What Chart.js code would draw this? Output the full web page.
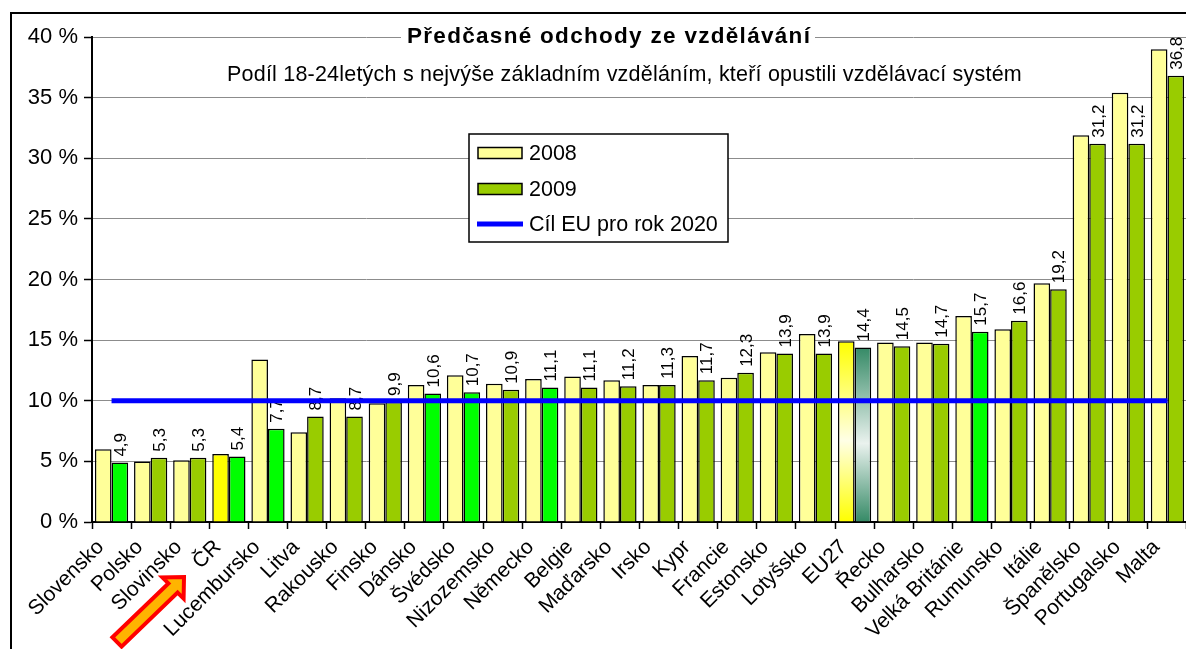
<!DOCTYPE html>
<html>
<head>
<meta charset="utf-8">
<script src="https://cdn.jsdelivr.net/npm/chart.js@4/dist/chart.umd.min.js"></script>
<style>
  html, body { margin: 0; padding: 0; background: #fff; overflow: hidden; }
  #wrap { position: relative; width: 1186px; height: 649px; overflow: hidden; }
  canvas { display: block; }
</style>
</head>
<body>
<div id="wrap"><canvas id="chart" width="1200" height="649"></canvas></div>
<script>
const FONT = '"Liberation Sans", Arial, sans-serif';

const countries = ['Slovensko', 'Polsko', 'Slovinsko', 'ČR', 'Lucembursko', 'Litva', 'Rakousko', 'Finsko',
  'Dánsko', 'Švédsko', 'Nizozemsko', 'Německo', 'Belgie', 'Maďarsko', 'Irsko', 'Kypr', 'Francie',
  'Estonsko', 'Lotyšsko', 'EU27', 'Řecko', 'Bulharsko', 'Velká Británie', 'Rumunsko', 'Itálie',
  'Španělsko', 'Portugalsko', 'Malta'];

const values2008 = [6.0, 5.0, 5.1, 5.6, 13.4, 7.4, 10.2, 9.8, 11.3, 12.1, 11.4, 11.8, 12.0, 11.7, 11.3,
  13.7, 11.9, 14.0, 15.5, 14.9, 14.8, 14.8, 17.0, 15.9, 19.7, 31.9, 35.4, 39.0];

const values2009 = [4.9, 5.3, 5.3, 5.4, 7.7, 8.7, 8.7, 9.9, 10.6, 10.7, 10.9, 11.1, 11.1, 11.2, 11.3,
  11.7, 12.3, 13.9, 13.9, 14.4, 14.5, 14.7, 15.7, 16.6, 19.2, 31.2, 31.2, 36.8];

const target2020 = [10, 10, 10, 10, 10, 10, 10, 10, 10, 10, 10, 10, 10, 10, 10, 10, 10, 10, 10, 10,
  10, 10, 10, 10, 10, 10, 10, 10];

const yTicks = [0, 5, 10, 15, 20, 25, 30, 35, 40];

// barvy sloupcu (zvyraznene staty)
const Y = '#FFFF99', G = '#99CC00', BG = '#00FF00';
const colors2008 = [Y, Y, Y, '#FFFF00', Y, Y, Y, Y, Y, Y, Y, Y, Y, Y, Y, Y, Y, Y, Y, 'grad', Y, Y, Y, Y, Y, Y, Y, Y];
const colors2009 = [BG, G, G, BG, BG, G, G, G, BG, BG, G, BG, G, G, G, G, G, G, G, 'grad', G, G, BG, G, G, G, G, G];

function barFill(colors, edge, light) {
  return (c) => {
    const col = colors[c.dataIndex];
    if (col !== 'grad') return col;
    const chart = c.chart;
    if (!chart.chartArea) return edge;
    const top = chart.scales.y.getPixelForValue(c.raw);
    const bottom = chart.scales.y.getPixelForValue(0);
    const g = chart.ctx.createLinearGradient(0, top, 0, bottom);
    g.addColorStop(0, edge);
    g.addColorStop(0.55, light);
    g.addColorStop(1, edge);
    return g;
  };
}

const frame = {
  id: 'frame',
  beforeDraw(chart) {
    const ctx = chart.ctx;
    ctx.save();
    ctx.strokeStyle = '#000';
    ctx.lineWidth = 2;
    ctx.beginPath();
    ctx.moveTo(11, chart.height + 5);
    ctx.lineTo(11, 13);
    ctx.lineTo(chart.width + 5, 13);
    ctx.stroke();
    ctx.restore();
  }
};

// popisky hodnot 2009 - kreslit pred carou cile EU
const valueLabels = {
  id: 'valueLabels',
  afterDatasetDraw(chart, args) {
    if (args.index !== 1) return;
    const ctx = chart.ctx;
    ctx.save();
    ctx.font = '17px ' + FONT;
    ctx.fillStyle = '#000';
    ctx.textAlign = 'left';
    ctx.textBaseline = 'alphabetic';
    args.meta.data.forEach((bar, i) => {
      ctx.save();
      ctx.translate(bar.x + 6, bar.y - 6);
      ctx.rotate(-Math.PI / 2);
      ctx.fillText(values2009[i].toFixed(1).replace('.', ','), 0, 0);
      ctx.restore();
    });
    ctx.restore();
  }
};

function fitText(ctx, text, x, y, width) {
  ctx.letterSpacing = '0px';
  const w = ctx.measureText(text).width;
  const sp = Math.max(0, (width - w) / (text.length - 1));
  ctx.letterSpacing = sp.toFixed(2) + 'px';
  ctx.textAlign = 'left';
  ctx.fillText(text, x, y);
  ctx.letterSpacing = '0px';
}

const titles = {
  id: 'titles',
  afterDraw(chart) {
    const ctx = chart.ctx;
    ctx.save();
    ctx.fillStyle = '#fff';
    ctx.fillRect(401, 28, 414, 20);
    ctx.fillStyle = '#000';
    ctx.textBaseline = 'alphabetic';
    ctx.font = 'bold 22.5px ' + FONT;
    fitText(ctx, 'Předčasné odchody ze vzdělávání', 407, 43, 403);
    ctx.font = '21.5px ' + FONT;
    fitText(ctx, 'Podíl 18-24letých s nejvýše základním vzděláním, kteří opustili vzdělávací systém', 227, 81, 795);
    ctx.restore();
  }
};

const boxLegend = {
  id: 'boxLegend',
  afterDraw(chart) {
    const ctx = chart.ctx;
    const ds = chart.data.datasets;
    ctx.save();
    ctx.fillStyle = '#fff';
    ctx.fillRect(469, 134, 259, 108);
    ctx.strokeStyle = '#000';
    ctx.lineWidth = 1.5;
    ctx.strokeRect(469, 134, 259, 108);
    ctx.font = '21.5px ' + FONT;
    ctx.textBaseline = 'middle';
    ctx.textAlign = 'left';
    const rows = [153, 189, 224];
    // sloupce 2008, 2009
    [0, 1].forEach((k) => {
      ctx.fillStyle = k === 0 ? Y : G;
      ctx.fillRect(478, rows[k] - 5.5, 44, 11);
      ctx.lineWidth = 1.5;
      ctx.strokeStyle = '#000';
      ctx.strokeRect(478, rows[k] - 5.5, 44, 11);
      ctx.fillStyle = '#000';
      ctx.fillText(ds[k].label, 529, rows[k] + 1);
    });
    ctx.strokeStyle = ds[2].borderColor;
    ctx.lineWidth = 5;
    ctx.beginPath();
    ctx.moveTo(477, rows[2]);
    ctx.lineTo(523, rows[2]);
    ctx.stroke();
    ctx.fillStyle = '#000';
    ctx.fillText(ds[2].label, 529, rows[2] + 1);
    ctx.restore();
  }
};

const arrow = {
  id: 'arrow',
  afterDraw(chart) {
    const ctx = chart.ctx;
    const pts = [[121.6, 646.6], [177.6, 592.6], [183.6, 598.6], [184, 577], [162.4, 577.4], [168.4, 583.4], [112.4, 637.4]];
    ctx.save();
    ctx.beginPath();
    pts.forEach((p, i) => (i ? ctx.lineTo(p[0], p[1]) : ctx.moveTo(p[0], p[1])));
    ctx.closePath();
    ctx.fillStyle = '#FFB400';
    ctx.fill();
    ctx.strokeStyle = '#FF0000';
    ctx.lineWidth = 4;
    ctx.lineJoin = 'miter';
    ctx.stroke();
    ctx.restore();
  }
};

new Chart(document.getElementById('chart'), {
  type: 'bar',
  data: {
    labels: countries,
    datasets: [
      {
        label: '2008',
        data: values2008,
        backgroundColor: barFill(colors2008, '#FFFF00', '#FFFFE6'),
        borderColor: '#000',
        borderWidth: 1.5,
        categoryPercentage: 0.85,
        barPercentage: 1.0,
        order: 1
      },
      {
        label: '2009',
        data: values2009,
        backgroundColor: barFill(colors2009, '#358A66', '#EAF2EE'),
        borderColor: '#000',
        borderWidth: 1.5,
        categoryPercentage: 0.85,
        barPercentage: 1.0,
        order: 1
      },
      {
        type: 'line',
        label: 'Cíl EU pro rok 2020',
        data: target2020,
        borderColor: '#0000FF',
        borderWidth: 5,
        pointRadius: 0,
        fill: false,
        order: 0
      }
    ]
  },
  options: {
    responsive: false,
    animation: false,
    devicePixelRatio: 1,
    layout: { padding: { top: 37, right: 13, left: 0, bottom: 0 } },
    plugins: {
      legend: { display: false },
      tooltip: { enabled: false },
      title: { display: false }
    },
    scales: {
      x: {
        afterFit(scale) { scale.height = 127; },
        grid: { drawOnChartArea: false, drawTicks: true, tickLength: 7, tickColor: '#000', tickWidth: 1.5, offset: true },
        border: { color: '#000', width: 2 },
        ticks: {
          autoSkip: false,
          minRotation: 45,
          maxRotation: 45,
          color: '#000',
          padding: 6,
          labelOffset: -11,
          font: { family: FONT, size: 21 }
        }
      },
      y: {
        min: 0,
        max: 40,
        afterFit(scale) { scale.width = 92; },
        afterBuildTicks(scale) { scale.ticks = yTicks.map(v => ({ value: v })); },
        grid: { color: '#8C8C8C', lineWidth: 1, tickLength: 8, tickColor: '#000', tickWidth: 1.5 },
        border: { color: '#000', width: 2 },
        ticks: {
          color: '#000',
          padding: 6,
          font: { family: FONT, size: 22 },
          callback: v => v + ' %'
        }
      }
    }
  },
  plugins: [frame, valueLabels, titles, boxLegend, arrow]
});
</script>
</body>
</html>
